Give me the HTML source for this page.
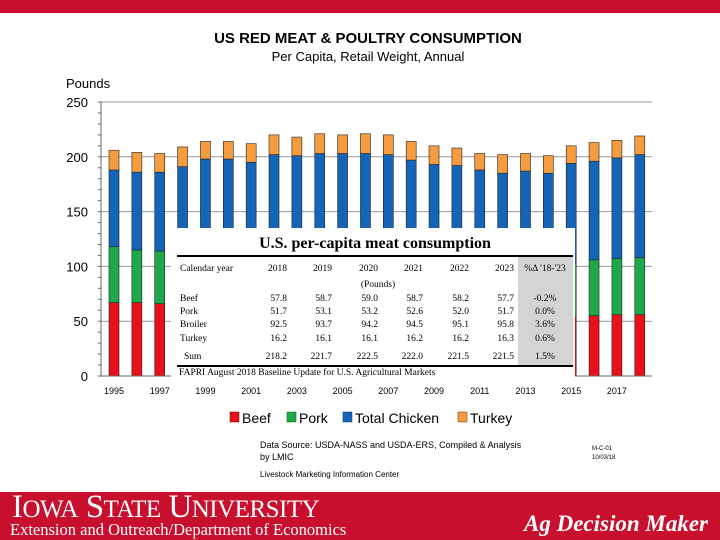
<!DOCTYPE html>
<html><head><meta charset="utf-8">
<style>
body{margin:0;width:720px;height:540px;overflow:hidden;background:#fff;font-family:"Liberation Sans",sans-serif;position:relative}
.topbar{position:absolute;left:0;top:0;width:720px;height:13px;background:#c8102e}
.footer{position:absolute;left:0;top:492px;width:720px;height:48px;background:#c8102e;color:#fff}
svg{position:absolute;left:0;top:0}
</style></head><body>
<div class="topbar"></div>
<svg width="720" height="540">
<text x="368" y="43" text-anchor="middle" font-size="15" font-weight="bold" font-family="Liberation Sans">US RED MEAT &amp; POULTRY CONSUMPTION</text>
<text x="368" y="61" text-anchor="middle" font-size="13">Per Capita, Retail Weight, Annual</text>
<text x="66" y="88" font-size="13">Pounds</text>
<g id="grid"></g><g id="bars"></g><g id="axes"></g>
<g font-family="Liberation Serif" font-size="9.5">
<rect x="171" y="228" width="404" height="152" fill="#fff"/>
<rect x="518" y="256" width="55" height="110" fill="#d4d4d4"/>
<text x="375" y="248" text-anchor="middle" font-size="16" font-weight="bold">U.S. per-capita meat consumption</text>
<line x1="177" y1="256" x2="573" y2="256" stroke="#000" stroke-width="2"/>
<text x="180" y="271">Calendar year</text>
<text x="287" y="271" text-anchor="end">2018</text><text x="332" y="271" text-anchor="end">2019</text><text x="378" y="271" text-anchor="end">2020</text><text x="423" y="271" text-anchor="end">2021</text><text x="469" y="271" text-anchor="end">2022</text><text x="514" y="271" text-anchor="end">2023</text><text x="545" y="271" text-anchor="middle">%Δ '18-'23</text>
<text x="378" y="287" text-anchor="middle">(Pounds)</text>
<g id="trows"></g>
<line x1="177" y1="366" x2="573" y2="366" stroke="#000" stroke-width="2"/>
<text x="179" y="375">FAPRI August 2018 Baseline Update for U.S. Agricultural Markets</text>
</g>
<g font-size="14">
<rect x="230" y="412" width="9" height="10" fill="#e8101a" stroke="#600" stroke-width=".5"/><text x="242" y="423">Beef</text>
<rect x="287" y="412" width="9" height="10" fill="#1fa84a" stroke="#060" stroke-width=".5"/><text x="299" y="423">Pork</text>
<rect x="343" y="412" width="9" height="10" fill="#1465b8" stroke="#036" stroke-width=".5"/><text x="355" y="423">Total Chicken</text>
<rect x="458" y="412" width="9" height="10" fill="#f59c40" stroke="#630" stroke-width=".5"/><text x="470" y="423">Turkey</text>
</g>
<text x="260" y="448" font-size="9">Data Source:  USDA-NASS and USDA-ERS, Compiled &amp; Analysis</text>
<text x="260" y="460" font-size="9">by LMIC</text>
<text x="260" y="477" font-size="8">Livestock Marketing Information Center</text>
<text x="592" y="450" font-size="6">M-C-01</text>
<text x="592" y="459" font-size="6">10/03/18</text>
</svg>
<div class="footer">
<div style="position:absolute;left:12px;top:-3px;font-family:'Liberation Serif',serif;font-size:33px;letter-spacing:-0.5px">I<span style="font-size:25px">OWA</span> S<span style="font-size:25px">TATE</span> U<span style="font-size:25px">NIVERSITY</span></div>
<div style="position:absolute;left:10px;top:28px;font-family:'Liberation Serif',serif;font-size:16.5px">Extension and Outreach/Department of Economics</div>
<div style="position:absolute;left:524px;top:19px;font-family:'Liberation Serif',serif;font-size:23px;font-style:italic;font-weight:bold">Ag Decision Maker</div>
</div>
<script>
const years=[1995,1996,1997,1998,1999,2000,2001,2002,2003,2004,2005,2006,2007,2008,2009,2010,2011,2012,2013,2014,2015,2016,2017,2018];
const beef=[67,67,66,68,68,68,67,67,65,66,65,66,65,62,61,59,57,57,56,54,54,55,56,56];
const pork=[51,48,48,50,50,48,47,48,49,48,48,48,49,49,49,47,45,45,46,46,49,51,51,52];
const chicken=[70,71,72,73,80,82,81,87,87,89,90,89,88,86,83,86,86,83,85,85,91,90,92,94];
const turkey=[18,18,17,18,16,16,17,18,17,18,17,18,18,17,17,16,15,17,16,16,16,17,16,17];
const yTicks=[0,50,100,150,200,250];
const xLabelYears=[1995,1997,1999,2001,2003,2005,2007,2009,2011,2013,2015,2017];
const tRows=[["Beef","57.8","58.7","59.0","58.7","58.2","57.7","-0.2%"],["Pork","51.7","53.1","53.2","52.6","52.0","51.7","0.0%"],["Broiler","92.5","93.7","94.2","94.5","95.1","95.8","3.6%"],["Turkey","16.2","16.1","16.1","16.2","16.2","16.3","0.6%"],["Sum","218.2","221.7","222.5","222.0","221.5","221.5","1.5%"]];
const NS="http://www.w3.org/2000/svg";
const y=v=>376-v*274/250;
const x=yr=>114+(yr-1995)*22.86;
function mk(t,a,p){const e=document.createElementNS(NS,t);for(const k in a)e.setAttribute(k,a[k]);p.appendChild(e);return e;}
const grid=document.getElementById('grid'),axes=document.getElementById('axes'),bars=document.getElementById('bars');
yTicks.forEach(v=>{
 if(v>0){const g=mk('line',{x1:101,x2:652,y1:y(v),y2:y(v),stroke:'#999','stroke-width':1},grid);
 
 }
 const t=mk('text',{x:88,y:y(v)+5,'text-anchor':'end','font-size':13},axes);t.textContent=v;
 
 
});
for(let v=0;v<=250;v+=10){mk('line',{x1:98,x2:101,y1:y(v),y2:y(v),stroke:'#666'},axes);}
mk('line',{x1:101,x2:101,y1:y(250),y2:y(0),stroke:'#666'},axes);
mk('line',{x1:101,x2:652,y1:y(0),y2:y(0),stroke:'#666'},axes);
xLabelYears.forEach(yr=>{const t=mk('text',{x:x(yr),y:394,'text-anchor':'middle','font-size':9},axes);t.textContent=yr;
 
 });
const cols=[["#e8101a",beef,"beef"],["#1fa84a",pork,"pork"],["#1465b8",chicken,"chicken"],["#f59c40",turkey,"turkey"]];
years.forEach((yr,i)=>{let base=0;cols.forEach(c=>{const v=c[1][i];
 const r=mk('rect',{x:x(yr)-5,y:y(base+v),width:10,height:y(base)-y(base+v),fill:c[0],stroke:'#222','stroke-width':0.6},bars);
 
 
 base+=v;});});
const tr=document.getElementById('trows');
const cx=[287,332,378,423,469,514];const ry=[301,314,327,341,359];
tRows.forEach((row,j)=>{let t=mk('text',{x:j==4?184:180,y:ry[j]},tr);t.textContent=row[0];
 for(let k=1;k<=6;k++){t=mk('text',{x:cx[k-1],y:ry[j],'text-anchor':'end'},tr);t.textContent=row[k];}
 t=mk('text',{x:545,y:ry[j],'text-anchor':'middle'},tr);t.textContent=row[7];});
</script>
</body></html>
